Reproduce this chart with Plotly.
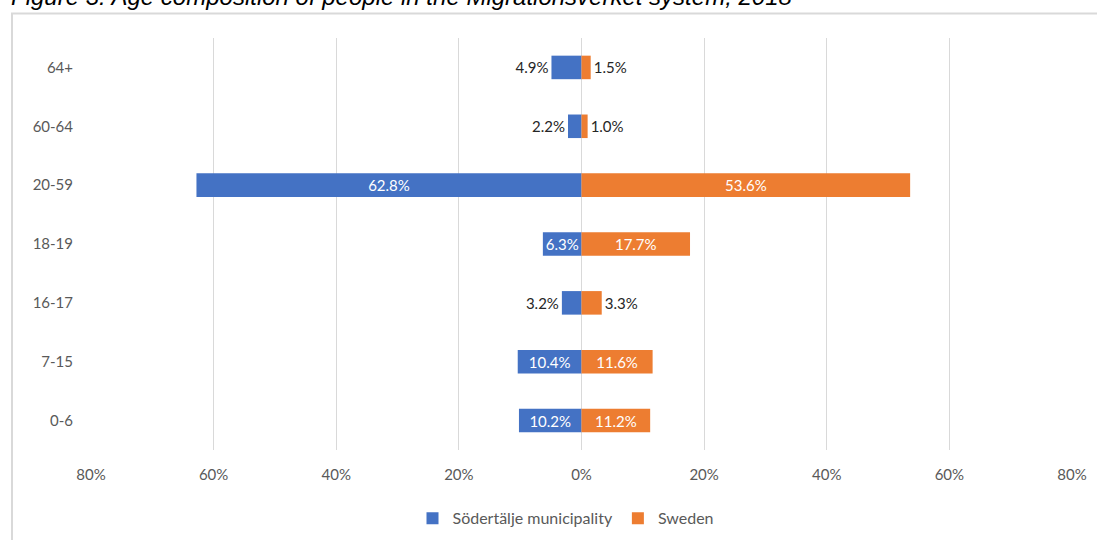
import plotly.graph_objects as go

# Age groups, top to bottom
age_groups = ["64+", "60-64", "20-59", "18-19", "16-17", "7-15", "0-6"]

# Share of people in each age group (%)
sodertalje = [4.9, 2.2, 62.8, 6.3, 3.2, 10.4, 10.2]
sweden = [1.5, 1.0, 53.6, 17.7, 3.3, 11.6, 11.2]

# Label placement per bar
sodertalje_pos = ["outside", "outside", "inside", "inside", "outside", "inside", "inside"]
sweden_pos = ["outside", "outside", "inside", "inside", "outside", "inside", "inside"]

tick_vals = [-80, -60, -40, -20, 0, 20, 40, 60, 80]
tick_text = ["80%", "60%", "40%", "20%", "0%", "20%", "40%", "60%", "80%"]

BLUE = "#4472C4"
ORANGE = "#ED7D31"
FONT = "Lato, Open Sans, sans-serif"
LABEL_SIZE = 15

# Plot area in pixels
PX_L, PX_R = 90, 1073
PX_T, PX_B = 37.5, 450.5
W, H = 1097, 540
AX_RANGE = 80 * (PX_R - PX_L) / (1072 - 91)  # keeps the 80% gridlines inside the area


def paper_x(px):
    return (px - PX_L) / (PX_R - PX_L)


def paper_y(py):
    return (PX_B - py) / (PX_B - PX_T)


fig = go.Figure()

fig.add_trace(go.Bar(
    name="Södertälje municipality",
    y=age_groups,
    x=[-v for v in sodertalje],
    orientation="h",
    marker=dict(color=BLUE, line=dict(width=0)),
    text=[f"{v}%" for v in sodertalje],
    textposition=sodertalje_pos,
    insidetextanchor="middle",
    insidetextfont=dict(color="white", size=LABEL_SIZE, family=FONT),
    outsidetextfont=dict(color="#262626", size=LABEL_SIZE, family=FONT),
    constraintext="none",
    textangle=0,
    cliponaxis=False,
))

fig.add_trace(go.Bar(
    name="Sweden",
    y=age_groups,
    x=sweden,
    orientation="h",
    marker=dict(color=ORANGE, line=dict(width=0)),
    text=[f"{v}%" for v in sweden],
    textposition=sweden_pos,
    insidetextanchor="middle",
    insidetextfont=dict(color="white", size=LABEL_SIZE, family=FONT),
    outsidetextfont=dict(color="#262626", size=LABEL_SIZE, family=FONT),
    constraintext="none",
    textangle=0,
    cliponaxis=False,
))

# Chart frame (left and top edges)
fig.add_shape(
    type="path",
    xref="paper", yref="paper",
    path=f"M {paper_x(12)},-0.5 L {paper_x(12)},{paper_y(13)} L 1.1,{paper_y(13)}",
    line=dict(color="#d9d9d9", width=2),
    layer="below",
)

# Figure caption above the frame
fig.add_annotation(
    text="<i>Figure 3: Age composition of people in the Migrationsverket system, 2018</i>",
    xref="paper", yref="paper",
    x=paper_x(9), y=paper_y(11),
    xanchor="left", yanchor="bottom",
    showarrow=False,
    font=dict(family="Liberation Sans, Arial, sans-serif", size=24, color="#000000"),
)

fig.update_layout(
    width=W,
    height=H,
    margin=dict(l=PX_L, r=W - PX_R, t=PX_T, b=H - PX_B, autoexpand=False),
    paper_bgcolor="white",
    plot_bgcolor="white",
    barmode="relative",
    bargap=0.6,
    font=dict(family=FONT, size=LABEL_SIZE, color="#595959"),
    showlegend=True,
    legend=dict(
        orientation="h",
        x=paper_x(566), xanchor="center",
        y=paper_y(519), yanchor="middle",
        font=dict(family=FONT, size=16, color="#595959"),
        traceorder="normal",
        itemwidth=30,
    ),
    xaxis=dict(
        range=[-AX_RANGE, AX_RANGE],
        tickvals=tick_vals,
        ticktext=tick_text,
        showgrid=True,
        gridcolor="#d9d9d9",
        gridwidth=1,
        zeroline=False,
        showline=False,
        ticks="",
        ticklabelstandoff=14,
        tickfont=dict(family=FONT, size=LABEL_SIZE, color="#595959"),
        fixedrange=True,
    ),
    yaxis=dict(
        categoryorder="array",
        categoryarray=age_groups[::-1],
        showgrid=False,
        zeroline=False,
        showline=False,
        ticks="",
        ticklabelstandoff=16,
        tickfont=dict(family=FONT, size=LABEL_SIZE, color="#595959"),
        fixedrange=True,
    ),
)

fig.write_html("out.html")
